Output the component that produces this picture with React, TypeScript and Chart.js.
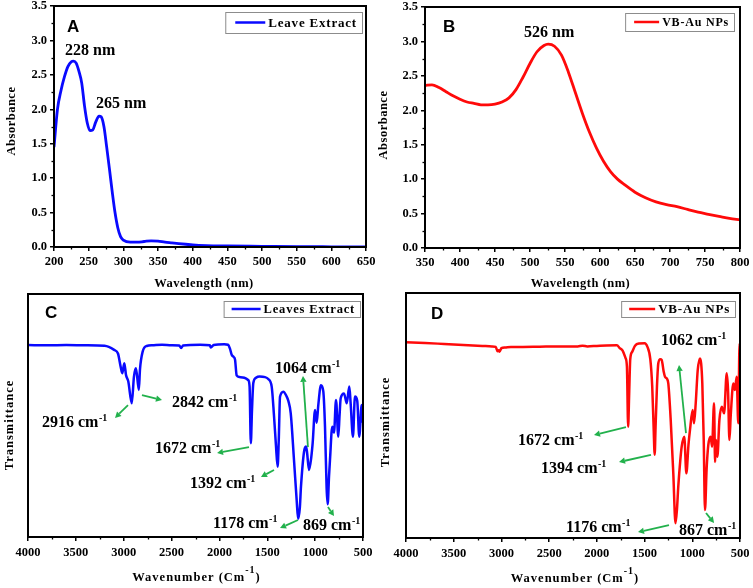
import React, { useEffect, useRef } from 'react';
import { Chart, registerables } from 'chart.js';

Chart.register(...registerables);
Chart.defaults.color = '#000';

const SERIF = '"Liberation Serif", "Times New Roman", Times, serif';
const SANS = '"Liberation Sans", Arial, Helvetica, sans-serif';

// ---------- Panel A: UV-Vis of leave extract ----------
const leafUvWavelength = [200, 205, 210, 215, 220, 225, 228, 232, 236, 240, 244, 248, 252, 256, 260, 265, 268, 272, 276, 280, 284, 288, 292, 296, 300, 310, 320, 330, 340, 350, 360, 370, 380, 390, 400, 420, 450, 500, 550, 600, 650];
const leafUvAbsorbance = [1.45, 2.0, 2.27, 2.47, 2.62, 2.69, 2.70, 2.67, 2.55, 2.38, 2.05, 1.80, 1.69, 1.70, 1.81, 1.90, 1.89, 1.75, 1.45, 1.13, 0.80, 0.50, 0.28, 0.15, 0.10, 0.07, 0.07, 0.08, 0.09, 0.085, 0.07, 0.06, 0.05, 0.04, 0.03, 0.02, 0.015, 0.01, 0.005, 0.003, 0.002];

// ---------- Panel B: UV-Vis of VB-Au NPs ----------
const auUvWavelength = [350, 360, 370, 380, 390, 400, 410, 420, 430, 440, 450, 460, 470, 480, 490, 500, 510, 520, 526, 535, 545, 555, 565, 575, 585, 595, 605, 615, 625, 635, 650, 665, 680, 695, 710, 725, 740, 755, 770, 785, 800];
const auUvAbsorbance = [2.36, 2.37, 2.33, 2.27, 2.21, 2.16, 2.12, 2.10, 2.08, 2.08, 2.09, 2.12, 2.18, 2.30, 2.48, 2.68, 2.85, 2.94, 2.96, 2.93, 2.80, 2.55, 2.25, 1.95, 1.68, 1.45, 1.26, 1.11, 1.00, 0.92, 0.81, 0.73, 0.67, 0.63, 0.60, 0.56, 0.52, 0.49, 0.46, 0.43, 0.41];

// ---------- Panel C: FTIR of leaves extract ----------
const leafIrWavenumber = [4000, 3800, 3600, 3400, 3200, 3100, 3060, 3032, 3015, 2994, 2976, 2952, 2916, 2893, 2872, 2842, 2830, 2802, 2760, 2700, 2600, 2500, 2420, 2400, 2380, 2200, 2100, 2090, 2060, 1950, 1910, 1890, 1872, 1850, 1837, 1820, 1790, 1740, 1700, 1685, 1672, 1660, 1646, 1620, 1580, 1524, 1490, 1454, 1430, 1410, 1392, 1380, 1367, 1332, 1300, 1280, 1255, 1221, 1193, 1178, 1160, 1148, 1116, 1096, 1085, 1064, 1040, 1026, 1001, 984, 967, 939, 915, 897, 880, 869, 855, 845, 821, 803, 782, 758, 745, 733, 698, 670, 643, 629, 605, 584, 560, 539, 514, 500];
const leafIrTransmittance = [79, 78.9, 79, 78.9, 78.7, 77.0, 75.5, 70.1, 67.4, 71.5, 66.7, 64, 55.0, 66, 69.4, 60.5, 69, 76.3, 78.6, 78.9, 79.1, 78.9, 78.8, 77.8, 78.8, 79.1, 78.9, 78.0, 79.0, 79.3, 79.1, 77.5, 75, 74, 73, 66.5, 65.8, 65.5, 64.6, 62, 38.6, 52, 63.4, 65.5, 66, 65.8, 65, 61.9, 50, 38, 28.9, 40, 57.7, 59.8, 58, 56, 50.9, 31.7, 15.2, 7.5, 12, 20.7, 35.1, 37.2, 35, 27.6, 33, 38.6, 52.3, 47, 54.3, 62.5, 60, 45.4, 20, 13.5, 25, 31.7, 45.4, 43, 56.4, 41.3, 50, 57.1, 59.1, 55, 61.9, 55, 41.3, 57.8, 56, 41.3, 54.3, 47];

// ---------- Panel D: FTIR of VB-Au NPs ----------
const auIrWavenumber = [4000, 3800, 3600, 3400, 3200, 3100, 3060, 3040, 3030, 3020, 3000, 2960, 2900, 2800, 2600, 2400, 2200, 2150, 2100, 2000, 1900, 1790, 1760, 1730, 1700, 1685, 1672, 1662, 1650, 1630, 1600, 1560, 1500, 1470, 1440, 1420, 1405, 1394, 1385, 1370, 1356, 1335, 1321, 1300, 1286, 1265, 1251, 1226, 1199, 1176, 1160, 1147, 1125, 1111, 1084, 1062, 1040, 1024, 996, 982, 964, 943, 919, 895, 880, 867, 850, 832, 807, 793, 772, 761, 751, 737, 716, 691, 667, 639, 625, 611, 597, 570, 553, 535, 518, 505, 500];
const auIrTransmittance = [79.9, 79.6, 79.2, 78.8, 78.4, 78.2, 78, 76.2, 76.6, 76, 77.5, 77.8, 78, 78, 78.1, 78.2, 78.2, 78.5, 78.2, 78.4, 78.6, 78.7, 77.5, 76.5, 73.5, 70, 45.4, 58, 73, 76, 78.5, 79.4, 79.5, 78, 73, 62, 45, 34, 45, 62, 71.3, 73, 72.7, 68, 65.8, 65, 63, 48.1, 26.4, 6.0, 12, 20.9, 32, 37.3, 41.3, 26.4, 38, 44.1, 52.2, 46.8, 55, 68.5, 73.3, 63.1, 40, 11.4, 28, 38, 41.3, 37.3, 55, 31, 40, 33.2, 48.1, 53.6, 50.9, 67.2, 60, 40, 50, 63.1, 60.4, 65.8, 46.8, 79.4, 78];

// ---------- annotation text ----------
const peakLabelsA = [
  { x: 215.9, y: 2.79, text: '228 nm' },
  { x: 260.6, y: 2.02, text: '265 nm' },
];
const peakLabelsB = [{ x: 491.4, y: 3.06, text: '526 nm' }];
const peakLabelsC = [
  { x: 3854, y: 45.3, text: '2916 cm', sup: '-1' },
  { x: 2496, y: 53.5, text: '2842 cm', sup: '-1' },
  { x: 2673, y: 34.6, text: '1672 cm', sup: '-1' },
  { x: 2307, y: 20.2, text: '1392 cm', sup: '-1' },
  { x: 2067, y: 3.7, text: '1178 cm', sup: '-1' },
  { x: 1127, y: 2.9, text: '869 cm', sup: '-1' },
  { x: 1419, y: 67.5, text: '1064 cm', sup: '-1' },
];
const arrowsC = [
  [2955, 54.3, 3091, 49.0],
  [2809, 58.4, 2600, 56.4],
  [1691, 37.0, 2025, 34.6],
  [1430, 27.6, 1566, 24.7],
  [1179, 7.0, 1367, 3.7],
  [866, 12.3, 803, 8.6],
  [1075, 37.0, 1127, 66.3],
];
const peakLabelsD = [
  { x: 1328, y: 78.7, text: '1062 cm', sup: '-1' },
  { x: 2826, y: 37.9, text: '1672 cm', sup: '-1' },
  { x: 2585, y: 26.5, text: '1394 cm', sup: '-1' },
  { x: 2323, y: 2.4, text: '1176 cm', sup: '-1' },
  { x: 1139, y: 1.2, text: '867 cm', sup: '-1' },
];
const arrowsD = [
  [1695, 45.3, 2030, 42.0],
  [1433, 33.9, 1768, 31.0],
  [1244, 5.3, 1569, 2.4],
  [856, 10.2, 772, 6.1],
  [1066, 42.8, 1139, 70.6],
];

type Label = { x: number; y: number; text: string; sup?: string };

interface PanelCfg {
  left: number; top: number; width: number; height: number;
  padTop: number; padRight: number; yAxisW: number; xAxisH: number;
  xs: number[]; ys: number[]; color: string; label: string; lineW: number;
  xMin: number; xMax: number; xStep: number; xMinor: number; reverse: boolean;
  yMin: number; yMax: number; yStep: number; yMinor: number; yTicks: boolean;
  xTitle: string; xTitleSup?: string; yTitle: string;
  xTitleDx: number; xTitleY: number; yTitleX: number; yTitleY: number; titleSpacing: number;
  xTickPad: number;
  letter: string; letterDx: number; letterDy: number;
  legend: { rightGap: number; topGap: number; h: number; font: number; lineLen: number; padL: number };
  labels: Label[]; arrows: number[][];
}

const GREEN = '#22b14c';

function makeChart(canvas: HTMLCanvasElement, c: PanelCfg) {
  const decor = {
    id: 'decor' + c.letter,
    afterDatasetsDraw(chart: any) {
      const ctx: CanvasRenderingContext2D = chart.ctx;
      const xs = chart.scales.x;
      const ys = chart.scales.y;
      const ca = chart.chartArea;
      ctx.save();
      // arrows
      ctx.strokeStyle = GREEN;
      ctx.fillStyle = GREEN;
      ctx.lineWidth = 1.8;
      for (const a of c.arrows) {
        const x1 = xs.getPixelForValue(a[0]);
        const y1 = ys.getPixelForValue(a[1]);
        const x2 = xs.getPixelForValue(a[2]);
        const y2 = ys.getPixelForValue(a[3]);
        const ang = Math.atan2(y2 - y1, x2 - x1);
        const hl = 6, hw = 3.2;
        const bx = x2 - hl * Math.cos(ang), by = y2 - hl * Math.sin(ang);
        ctx.beginPath();
        ctx.moveTo(x1, y1);
        ctx.lineTo(bx, by);
        ctx.stroke();
        ctx.beginPath();
        ctx.moveTo(x2, y2);
        ctx.lineTo(bx + hw * Math.sin(ang), by - hw * Math.cos(ang));
        ctx.lineTo(bx - hw * Math.sin(ang), by + hw * Math.cos(ang));
        ctx.closePath();
        ctx.fill();
      }
      // peak labels
      ctx.fillStyle = '#000';
      ctx.textAlign = 'left';
      ctx.textBaseline = 'alphabetic';
      for (const l of c.labels) {
        const px = xs.getPixelForValue(l.x);
        const py = ys.getPixelForValue(l.y);
        ctx.font = `bold 16px ${SERIF}`;
        ctx.fillText(l.text, px, py);
        if (l.sup) {
          const w = ctx.measureText(l.text).width;
          ctx.font = `bold 10px ${SERIF}`;
          ctx.fillText(l.sup, px + w + 0.5, py - 6);
        }
      }
      // panel letter
      ctx.font = `bold 17px ${SANS}`;
      ctx.fillText(c.letter, ca.left + c.letterDx, ca.top + c.letterDy);
      // legend
      const lg = c.legend;
      ctx.font = `bold ${lg.font}px ${SERIF}`;
      (ctx as any).letterSpacing = '0.8px';
      const tw = ctx.measureText(c.label).width;
      const bw = lg.padL + lg.lineLen + 3 + tw + 5;
      const bx = ca.right - lg.rightGap - bw;
      const by = ca.top + lg.topGap;
      ctx.fillStyle = '#fff';
      ctx.fillRect(bx, by, bw, lg.h);
      ctx.strokeStyle = '#8c8c8c';
      ctx.lineWidth = 1;
      ctx.strokeRect(bx + 0.5, by + 0.5, bw, lg.h);
      ctx.strokeStyle = c.color;
      ctx.lineWidth = 2.5;
      ctx.beginPath();
      ctx.moveTo(bx + lg.padL, by + lg.h / 2);
      ctx.lineTo(bx + lg.padL + lg.lineLen, by + lg.h / 2);
      ctx.stroke();
      ctx.fillStyle = '#000';
      ctx.textBaseline = 'middle';
      ctx.fillText(c.label, bx + lg.padL + lg.lineLen + 3, by + lg.h / 2 + 1);
      ctx.restore();
    },
    afterDraw(chart: any) {
      const ctx: CanvasRenderingContext2D = chart.ctx;
      const ca = chart.chartArea;
      const xs = chart.scales.x;
      const ys = chart.scales.y;
      ctx.save();
      ctx.strokeStyle = '#000';
      ctx.lineWidth = 1.3;
      // minor ticks
      for (let v = c.xMin; v <= c.xMax + 1e-9; v += c.xMinor) {
        const r = (v - c.xMin) / c.xStep;
        if (Math.abs(r - Math.round(r)) < 1e-6) continue;
        const px = Math.round(xs.getPixelForValue(v)) + 0.5;
        ctx.beginPath();
        ctx.moveTo(px, ca.bottom);
        ctx.lineTo(px, ca.bottom + 2.5);
        ctx.stroke();
      }
      if (c.yTicks) {
        for (let v = c.yMin; v <= c.yMax + 1e-9; v += c.yMinor) {
          const r = (v - c.yMin) / c.yStep;
          if (Math.abs(r - Math.round(r)) < 1e-6) continue;
          const py = Math.round(ys.getPixelForValue(v)) + 0.5;
          ctx.beginPath();
          ctx.moveTo(ca.left, py);
          ctx.lineTo(ca.left - 2.5, py);
          ctx.stroke();
        }
      }
      // frame
      ctx.lineWidth = 2;
      ctx.strokeRect(ca.left, ca.top, ca.right - ca.left, ca.bottom - ca.top);

      // axis titles
      ctx.fillStyle = '#000';
      (ctx as any).letterSpacing = c.titleSpacing + 'px';
      ctx.font = `bold 12.5px ${SERIF}`;
      ctx.textBaseline = 'alphabetic';
      ctx.textAlign = 'left';
      const mainW = ctx.measureText(c.xTitle).width;
      let supW = 0, closeW = 0;
      if (c.xTitleSup) {
        ctx.font = `bold 10px ${SERIF}`;
        supW = ctx.measureText(c.xTitleSup).width;
        ctx.font = `bold 12.5px ${SERIF}`;
        closeW = ctx.measureText(')').width;
      }
      const totalW = mainW + supW + closeW;
      const cx = (ca.left + ca.right) / 2 + c.xTitleDx;
      let tx = cx - totalW / 2;
      ctx.fillText(c.xTitle, tx, c.xTitleY);
      if (c.xTitleSup) {
        tx += mainW;
        ctx.font = `bold 10px ${SERIF}`;
        ctx.fillText(c.xTitleSup, tx, c.xTitleY - 8);
        tx += supW;
        ctx.font = `bold 12.5px ${SERIF}`;
        ctx.fillText(')', tx, c.xTitleY);
      }
      ctx.save();
      ctx.translate(c.yTitleX, c.yTitleY);
      ctx.rotate(-Math.PI / 2);
      ctx.textAlign = 'center';
      ctx.textBaseline = 'middle';
      ctx.fillText(c.yTitle, 0, 0);
      ctx.restore();
      ctx.restore();
    },
  };

  const data = c.xs.map((x, i) => ({ x, y: c.ys[i] }));
  const tickFont = { family: SERIF, size: 12.5, weight: 'bold' as const, lineHeight: 1 };

  return new Chart(canvas, {
    type: 'line',
    data: {
      datasets: [
        {
          label: c.label,
          data,
          borderColor: c.color,
          backgroundColor: c.color,
          borderWidth: c.lineW,
          pointRadius: 0,
          fill: false,
          cubicInterpolationMode: 'monotone',
          borderJoinStyle: 'round',
        },
      ],
    },
    options: {
      responsive: false,
      animation: false,
      devicePixelRatio: 1,
      layout: { padding: { top: c.padTop, right: c.padRight, left: 0, bottom: 0 } },
      plugins: { legend: { display: false }, tooltip: { enabled: false } },
      scales: {
        x: {
          type: 'linear',
          min: c.xMin,
          max: c.xMax,
          reverse: c.reverse,
          border: { display: false },
          grid: { drawOnChartArea: false, drawTicks: true, tickLength: 4, color: '#000', lineWidth: 1.5 },
          ticks: {
            stepSize: c.xStep,
            autoSkip: false,
            maxRotation: 0,
            padding: c.xTickPad,
            font: tickFont,
            color: '#000',
            callback: (v: any) => String(v),
          },
          title: { display: false },
          afterFit: (s: any) => {
            s.height = c.xAxisH;
            s.paddingLeft = 0;
            s.paddingRight = 0;
          },
        },
        y: {
          type: 'linear',
          min: c.yMin,
          max: c.yMax,
          border: { display: false },
          grid: { display: c.yTicks, drawOnChartArea: false, drawTicks: true, tickLength: 4, color: '#000', lineWidth: 1.5 },
          ticks: {
            display: c.yTicks,
            stepSize: c.yStep,
            padding: 3,
            font: tickFont,
            color: '#000',
            callback: (v: any) => Number(v).toFixed(1),
          },
          title: { display: false },
          afterFit: (s: any) => {
            s.width = c.yAxisW;
            s.paddingTop = 0;
            s.paddingBottom = 0;
          },
        },
      },
    } as any,
    plugins: [decor],
  });
}

const panels: PanelCfg[] = [
  {
    left: 0, top: 0, width: 376, height: 292,
    padTop: 6, padRight: 10, yAxisW: 54, xAxisH: 45,
    xs: leafUvWavelength, ys: leafUvAbsorbance, color: '#0a0aff', label: 'Leave Extract', lineW: 2.8,
    xMin: 200, xMax: 650, xStep: 50, xMinor: 25, reverse: false,
    yMin: 0, yMax: 3.5, yStep: 0.5, yMinor: 0.25, yTicks: true,
    xTitle: 'Wavelength (nm)', yTitle: 'Absorbance',
    xTitleDx: -6, xTitleY: 287, yTitleX: 12, yTitleY: 121, titleSpacing: 0.5, xTickPad: 5,
    letter: 'A', letterDx: 13, letterDy: 26,
    legend: { rightGap: 4, topGap: 6, h: 21, font: 13, lineLen: 30, padL: 10 },
    labels: peakLabelsA, arrows: [],
  },
  {
    left: 376, top: 0, width: 377, height: 292,
    padTop: 7, padRight: 13, yAxisW: 49, xAxisH: 44,
    xs: auUvWavelength, ys: auUvAbsorbance, color: '#ff0a0a', label: 'VB-Au NPs', lineW: 2.8,
    xMin: 350, xMax: 800, xStep: 50, xMinor: 25, reverse: false,
    yMin: 0, yMax: 3.5, yStep: 0.5, yMinor: 0.25, yTicks: true,
    xTitle: 'Wavelength (nm)', yTitle: 'Absorbance',
    xTitleDx: -2, xTitleY: 287, yTitleX: 8, yTitleY: 125, titleSpacing: 0.5, xTickPad: 5,
    letter: 'B', letterDx: 18, letterDy: 25,
    legend: { rightGap: 6, topGap: 6, h: 18, font: 12, lineLen: 25, padL: 9 },
    labels: peakLabelsB, arrows: [],
  },
  {
    left: 0, top: 292, width: 376, height: 296,
    padTop: 2, padRight: 13, yAxisW: 28, xAxisH: 51,
    xs: leafIrWavenumber, ys: leafIrTransmittance, color: '#0a0aff', label: 'Leaves Extract', lineW: 2.5,
    xMin: 500, xMax: 4000, xStep: 500, xMinor: 250, reverse: true,
    yMin: 0, yMax: 100, yStep: 20, yMinor: 10, yTicks: false,
    xTitle: 'Wavenumber (Cm', xTitleSup: '-1', yTitle: 'Transmittance',
    xTitleDx: 1, xTitleY: 289, yTitleX: 10, yTitleY: 133, titleSpacing: 1, xTickPad: 6,
    letter: 'C', letterDx: 17, letterDy: 24,
    legend: { rightGap: 3, topGap: 7, h: 16, font: 12.5, lineLen: 29, padL: 8 },
    labels: peakLabelsC, arrows: arrowsC,
  },
  {
    left: 376, top: 292, width: 377, height: 296,
    padTop: 1, padRight: 13, yAxisW: 30, xAxisH: 50,
    xs: auIrWavenumber, ys: auIrTransmittance, color: '#ff0a0a', label: 'VB-Au NPs', lineW: 2.5,
    xMin: 500, xMax: 4000, xStep: 500, xMinor: 250, reverse: true,
    yMin: 0, yMax: 100, yStep: 20, yMinor: 10, yTicks: false,
    xTitle: 'Wavenumber (Cm', xTitleSup: '-1', yTitle: 'Transmittance',
    xTitleDx: 2, xTitleY: 290, yTitleX: 10, yTitleY: 130, titleSpacing: 1, xTickPad: 6,
    letter: 'D', letterDx: 25, letterDy: 26,
    legend: { rightGap: 5, topGap: 8, h: 16, font: 13, lineLen: 26, padL: 8 },
    labels: peakLabelsD, arrows: arrowsD,
  },
];

function Panel({ cfg }: { cfg: PanelCfg }) {
  const ref = useRef<HTMLCanvasElement>(null);
  useEffect(() => {
    if (!ref.current) return;
    const chart = makeChart(ref.current, cfg);
    return () => chart.destroy();
  }, [cfg]);
  return (
    <canvas
      ref={ref}
      width={cfg.width}
      height={cfg.height}
      style={{ position: 'absolute', left: cfg.left, top: cfg.top, width: cfg.width, height: cfg.height }}
    />
  );
}

export default function App() {
  return (
    <div style={{ position: 'absolute', left: 0, top: 0, width: 753, height: 588, background: '#fff', overflow: 'hidden' }}>
      {panels.map((p) => (
        <Panel key={p.letter} cfg={p} />
      ))}
    </div>
  );
}
